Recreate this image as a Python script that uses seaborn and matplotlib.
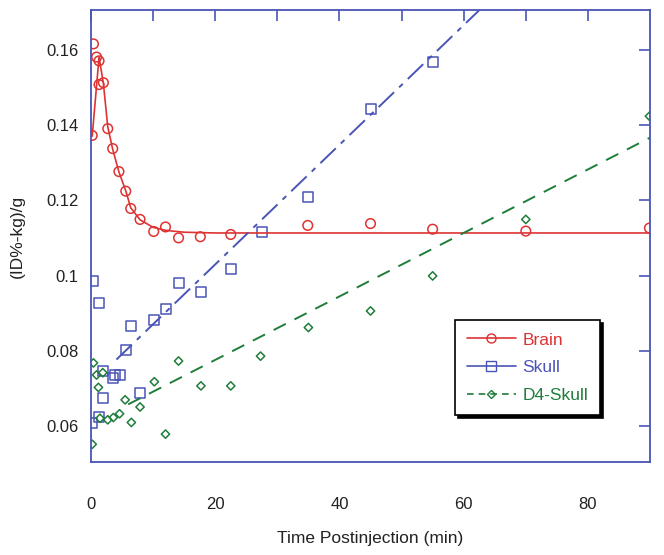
import matplotlib
matplotlib.use('Agg')

import matplotlib.pyplot as plt
import numpy as np
import pandas as pd
import seaborn as sns
from matplotlib.lines import Line2D
from matplotlib.ticker import FixedLocator, FuncFormatter

# measured points
brain_t = [0.2, 0.4, 0.9, 1.3, 1.3, 2.0, 2.7, 3.5, 4.5, 5.6, 6.4, 7.9, 10.1, 12.0,
           14.1, 17.6, 22.5, 34.9, 45.0, 55.0, 70.0, 89.9]
brain_v = [0.1372, 0.1615, 0.158, 0.157, 0.1507, 0.1512, 0.139, 0.1337, 0.1276, 0.1224,
           0.1178, 0.1149, 0.1117, 0.1129, 0.110, 0.1103, 0.1109, 0.1133, 0.1138, 0.1123,
           0.1118, 0.1126]

skull_t = [0.2, 0.4, 1.3, 1.3, 2.0, 2.0, 3.5, 3.9, 4.7, 5.6, 6.5, 7.9, 10.2, 12.0,
           14.1, 17.7, 22.5, 27.5, 34.9, 45.0, 55.0]
skull_v = [0.0608, 0.0985, 0.0926, 0.0625, 0.0676, 0.0746, 0.0727, 0.0735, 0.0736,
           0.0803, 0.0865, 0.0688, 0.0883, 0.091, 0.0981, 0.0957, 0.1018, 0.1116,
           0.1208, 0.1443, 0.1566]

d4_t = [0.2, 0.4, 0.9, 1.2, 1.45, 1.9, 2.7, 3.6, 4.6, 5.5, 6.5, 7.9, 10.2, 12.0,
        14.1, 17.7, 22.5, 27.3, 35.0, 45.0, 55.0, 70.0, 89.9]
d4_v = [0.0552, 0.0768, 0.0736, 0.0703, 0.0621, 0.0742, 0.0617, 0.0623, 0.0633, 0.067,
        0.061, 0.0651, 0.0718, 0.0579, 0.0773, 0.0707, 0.0707, 0.0786, 0.0862, 0.0906,
        0.0999, 0.1149, 0.1423]

# fitted curves
brain_fit_t = [0.2, 1.3, 2.0, 2.7, 3.5, 4.5, 5.6, 6.4, 7.9, 10.0, 12.0, 15.0, 20.0, 30.0, 90.0]
brain_fit_v = [0.137, 0.158, 0.151, 0.1395, 0.1335, 0.1275, 0.1225, 0.118, 0.1148,
               0.1128, 0.112, 0.1115, 0.1113, 0.1113, 0.1113]
skull_fit_t = [4.1, 62.6]
skull_fit_v = [0.0777, 0.1706]
d4_fit_t = [6.0, 90.0]
d4_fit_v = [0.0658, 0.1366]

red = '#dd3333'
blue = '#4a54b6'
green = '#1f7d3a'
txt_col = '#222222'

sns.set_style('white')
plt.rcParams['font.family'] = ['Liberation Sans', 'DejaVu Sans']

fig = plt.figure(figsize=(6.64, 5.55), dpi=100)
ax = fig.add_axes([0.137, 0.1676, 0.842, 0.8144])

# fitted lines
sns.lineplot(x=brain_fit_t, y=brain_fit_v, ax=ax, color=red, lw=1.2,
             estimator=None, sort=False)
sns.lineplot(x=skull_fit_t, y=skull_fit_v, ax=ax, color=blue, lw=1.4,
             estimator=None, sort=False, linestyle=(0, (11, 3.6, 2.6, 3.6)))
sns.lineplot(x=d4_fit_t, y=d4_fit_v, ax=ax, color=green, lw=1.4,
             estimator=None, sort=False, linestyle=(0, (7, 5)))

# data points, open markers
for t, v, c, m, s in [(brain_t, brain_v, red, 'o', 48),
                      (skull_t, skull_v, blue, 's', 52),
                      (d4_t, d4_v, green, 'D', 18)]:
    sns.scatterplot(x=t, y=v, ax=ax, marker=m, s=s, color=c, linewidth=1.1)
    pts = ax.collections[-1]
    pts.set_facecolor('none')
    pts.set_edgecolor(c)

ax.set_xlim(0, 90)
ax.set_ylim(0.0505, 0.1705)
ax.set_xticks([0, 20, 40, 60, 80])
ax.xaxis.set_minor_locator(FixedLocator([10, 30, 50, 70]))
ax.set_yticks([0.06, 0.08, 0.10, 0.12, 0.14, 0.16])
ax.yaxis.set_major_formatter(FuncFormatter(lambda v, p: '%g' % round(v, 2)))

for sp in ax.spines.values():
    sp.set_color(blue)
    sp.set_linewidth(1.3)
ax.tick_params(which='both', direction='in', top=True, right=True, length=8,
               width=1.2, color=blue, labelcolor=txt_col, labelsize=12)
ax.tick_params(axis='x', which='both', pad=25)
ax.tick_params(axis='y', which='both', pad=9)

ax.set_xlabel('Time Postinjection (min)', fontsize=12.5, color=txt_col, labelpad=14)
ax.set_ylabel('(ID%-kg)/g', fontsize=12.5, color=txt_col, labelpad=15)

handles = [
    Line2D([], [], color=red, lw=1.2, marker='o', mfc='none', mec=red, ms=6.5),
    Line2D([], [], color=blue, lw=1.2, marker='s', mfc='none', mec=blue, ms=7),
    Line2D([], [], color=green, lw=1.2, ls=(0, (4, 3)), marker='D', mfc='none', mec=green, ms=4.2),
]
leg = ax.legend(handles, ['Brain', 'Skull', 'D4-Skull'], loc='lower left',
                bbox_to_anchor=(0.651, 0.104, 0.26, 0.226), mode='expand',
                fancybox=False, frameon=True,
                shadow={'color': 'black', 'alpha': 1},
                fontsize=12.5, handlelength=2.8, handletextpad=0.4,
                labelspacing=0.72, borderpad=0.7, borderaxespad=0)
leg.get_frame().set_edgecolor('black')
leg.get_frame().set_linewidth(1.2)
for txt, c in zip(leg.get_texts(), [red, blue, green]):
    txt.set_color(c)

fig.savefig('out.png', dpi=100)
